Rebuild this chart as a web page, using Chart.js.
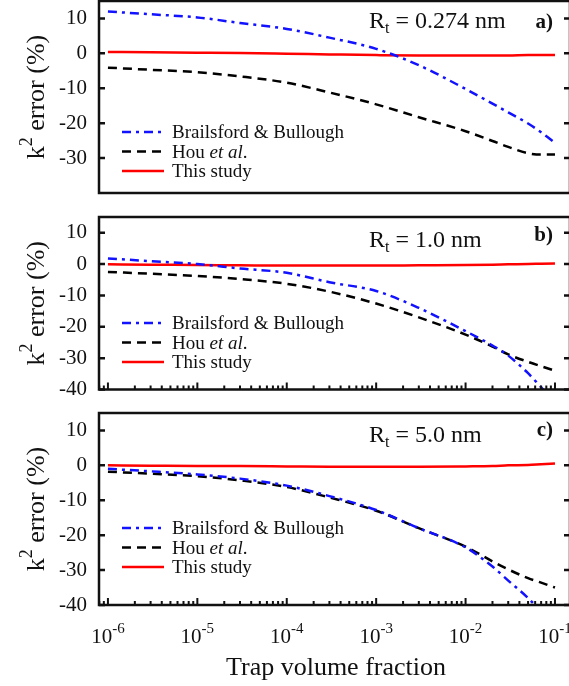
<!DOCTYPE html>
<html>
<head>
<meta charset="utf-8">
<script src="https://cdn.jsdelivr.net/npm/chart.js@4.4.1/dist/chart.umd.min.js"></script>
<style>
  html, body { margin: 0; padding: 0; background: #fff; overflow: hidden; width: 569px; height: 686px; }
  .panel { position: absolute; left: 0; }
</style>
</head>
<body>
<div class="panel" style="top:0"><canvas id="chartA" width="575" height="200"></canvas></div>
<div class="panel" style="top:200px"><canvas id="chartB" width="575" height="200"></canvas></div>
<div class="panel" style="top:400px"><canvas id="chartC" width="575" height="286"></canvas></div>
<script>
// trap volume fractions shared by every curve
const fractions = [1e-6, 3e-6, 1e-5, 3e-5, 1e-4, 3e-4, 1e-3, 3e-3, 1e-2, 2e-2, 3e-2, 5e-2, 7e-2, 1e-1];

// k^2 error (%), Rt = 0.274 nm
const bbA   = [12.0, 11.2, 10.3, 8.7, 7.0, 4.5, 1.3, -3.4, -10.2, -14.4, -16.9, -20.1, -22.6, -25.6];
const houA  = [-4.1, -4.7, -5.4, -6.6, -8.4, -11.2, -14.6, -18.3, -22.3, -25.1, -26.8, -28.6, -29.0, -29.0];
const oursA = [0.4, 0.3, 0.2, 0.1, -0.1, -0.3, -0.5, -0.6, -0.6, -0.6, -0.6, -0.5, -0.5, -0.5];

// Rt = 1.0 nm
const bbB   = [1.8, 0.9, 0.0, -1.4, -2.8, -5.8, -8.6, -14.0, -21.4, -26.0, -29.2, -34.8, -39.3, -44.0];
const houB  = [-2.5, -3.1, -3.8, -4.8, -6.3, -8.8, -12.6, -17.0, -22.5, -26.3, -28.8, -31.2, -32.6, -34.0];
const oursB = [-0.1, -0.2, -0.3, -0.4, -0.5, -0.5, -0.5, -0.4, -0.3, -0.2, -0.1, 0.0, 0.1, 0.2];

// Rt = 5.0 nm
const bbC   = [-1.0, -1.7, -2.6, -3.8, -5.8, -8.8, -12.8, -18.0, -23.5, -29.0, -33.0, -38.0, -42.0, -47.0];
const houC  = [-1.8, -2.4, -3.1, -4.3, -6.2, -9.2, -13.0, -18.0, -23.3, -27.5, -29.8, -32.3, -33.6, -35.0];
const oursC = [0.0, -0.1, -0.2, -0.2, -0.3, -0.4, -0.4, -0.4, -0.3, -0.2, 0.0, 0.1, 0.3, 0.5];

const seriesNames = ['Brailsford & Bullough', 'Hou et al.', 'This study'];
const trapRadii = ['0.274', '1.0', '5.0'];
const panelTags = ['a)', 'b)', 'c)'];
const yTicksA = [-30, -20, -10, 0, 10];
const yTicksBC = [-40, -30, -20, -10, 0, 10];
const xDecades = [-6, -5, -4, -3, -2, -1];

const serif = '"Liberation Serif", "Times New Roman", serif';
const xMin = Math.pow(10, -6.1);
const xMax = Math.pow(10, -0.832);

function font(size, style) {
  return (style || '') + ' ' + size + 'px ' + serif;
}

function runWidth(ctx, parts) {
  return parts.reduce((w, p) => {
    ctx.font = font(p.size, p.style);
    return w + ctx.measureText(p.text).width;
  }, 0);
}

function drawRun(ctx, parts, x, y) {
  parts.forEach(p => {
    ctx.font = font(p.size, p.style);
    ctx.fillText(p.text, x, y + (p.dy || 0));
    x += ctx.measureText(p.text).width;
  });
}

// frame, inward ticks, legend and labels for one panel
function decor(cfg) {
  return {
    id: 'panelDecor',
    afterDraw(chart) {
      const { ctx, chartArea: a } = chart;
      const x = chart.scales.x, y = chart.scales.y;
      ctx.save();
      ctx.fillStyle = '#111';
      ctx.strokeStyle = '#111';
      ctx.setLineDash([]);

      ctx.lineWidth = 2.5;
      ctx.beginPath();
      cfg.yTicks.forEach(v => {
        const py = y.getPixelForValue(v);
        ctx.moveTo(a.left, py); ctx.lineTo(a.left + 6, py);
        ctx.moveTo(a.right, py); ctx.lineTo(a.right - 6, py);
      });
      ctx.stroke();

      if (cfg.xTicks) {
        ctx.lineWidth = 2;
        ctx.beginPath();
        for (let e = -7; e <= -1; e++) {
          for (let m = 1; m <= 9; m++) {
            const v = m * Math.pow(10, e);
            if (v < xMin || v > xMax) continue;
            const px = x.getPixelForValue(v);
            ctx.moveTo(px, a.bottom);
            ctx.lineTo(px, a.bottom - (m === 1 ? 7 : 4));
          }
        }
        ctx.stroke();
      }

      ctx.lineWidth = 2.5;
      ctx.strokeRect(a.left, a.top, a.right - a.left, a.bottom - a.top);

      // legend
      chart.data.datasets.forEach((ds, i) => {
        const ly = a.top + cfg.legendTop + i * 19.5;
        ctx.save();
        ctx.strokeStyle = ds.borderColor;
        ctx.lineWidth = 2.5;
        ctx.setLineDash(ds.borderDash || []);
        ctx.beginPath();
        ctx.moveTo(122, ly); ctx.lineTo(164, ly);
        ctx.stroke();
        ctx.restore();
        const parts = ds.label.split(/(et al)/).filter(s => s).map(s => ({
          text: s, size: 19, style: s === 'et al' ? 'italic' : ''
        }));
        drawRun(ctx, parts, 172, ly + 6);
      });

      // trap radius and panel tag
      drawRun(ctx, [
        { text: 'R', size: 24 },
        { text: 't', size: 16, dy: 5 },
        { text: ' = ' + cfg.radius + ' nm', size: 24 }
      ], 369, a.top + cfg.rBase);
      ctx.font = font(21, 'bold');
      ctx.textAlign = 'right';
      ctx.fillText(cfg.tag, 553, a.top + cfg.tagBase);
      ctx.textAlign = 'left';

      // y title: k^2 error (%)
      const title = [
        { text: 'k', size: 26 },
        { text: '2', size: 18, dy: -12 },
        { text: ' error (%)', size: 26 }
      ];
      ctx.save();
      ctx.translate(44, (a.top + a.bottom) / 2);
      ctx.rotate(-Math.PI / 2);
      drawRun(ctx, title, -runWidth(ctx, title) / 2, 0);
      ctx.restore();

      if (cfg.xLabels) {
        xDecades.forEach(e => {
          const parts = [
            { text: '10', size: 21 },
            { text: String(e), size: 15, dy: -10 }
          ];
          const px = x.getPixelForValue(Math.pow(10, e));
          drawRun(ctx, parts, px - runWidth(ctx, parts) / 2, a.bottom + 38);
        });
        ctx.font = font(26);
        ctx.textAlign = 'center';
        ctx.fillText('Trap volume fraction', 336, a.bottom + 70);
      }
      ctx.restore();
    }
  };
}

function makePanel(id, cfg) {
  const pts = vals => fractions.map((f, i) => ({ x: f, y: vals[i] }));
  return new Chart(document.getElementById(id), {
    type: 'line',
    data: {
      datasets: [
        { label: seriesNames[0], data: pts(cfg.bb), borderColor: '#1212ff', borderDash: [9, 5, 3, 5] },
        { label: seriesNames[1], data: pts(cfg.hou), borderColor: '#000000', borderDash: [9, 6] },
        { label: seriesNames[2], data: pts(cfg.ours), borderColor: '#ff0000' }
      ]
    },
    options: {
      responsive: false,
      animation: false,
      devicePixelRatio: 1,
      layout: { padding: { top: cfg.padTop, bottom: cfg.padBottom, left: 0, right: 5 } },
      elements: {
        point: { radius: 0 },
        line: { borderWidth: 2.5, cubicInterpolationMode: 'monotone', fill: false }
      },
      plugins: { legend: { display: false }, tooltip: { enabled: false } },
      scales: {
        x: { type: 'logarithmic', min: xMin, max: xMax, display: false },
        y: {
          min: -40, max: 15,
          grid: { display: false, drawTicks: false },
          border: { display: false },
          afterBuildTicks: s => { s.ticks = cfg.yTicks.map(v => ({ value: v })); },
          afterFit: s => { s.width = 99; s.paddingTop = 0; s.paddingBottom = 0; },
          ticks: { padding: 12, color: '#111', font: { family: serif, size: 21 } }
        }
      }
    },
    plugins: [decor(cfg)]
  });
}

makePanel('chartA', {
  bb: bbA, hou: houA, ours: oursA, yTicks: yTicksA,
  padTop: 1, padBottom: 7, legendTop: 131, rBase: 27, tagBase: 27,
  radius: trapRadii[0], tag: panelTags[0]
});
makePanel('chartB', {
  bb: bbB, hou: houB, ours: oursB, yTicks: yTicksBC, xTicks: true,
  padTop: 17, padBottom: 10.5, legendTop: 106, rBase: 30, tagBase: 24,
  radius: trapRadii[1], tag: panelTags[1]
});
makePanel('chartC', {
  bb: bbC, hou: houC, ours: oursC, yTicks: yTicksBC, xTicks: true, xLabels: true,
  padTop: 13, padBottom: 81, legendTop: 115, rBase: 29, tagBase: 23,
  radius: trapRadii[2], tag: panelTags[2]
});
</script>
</body>
</html>
